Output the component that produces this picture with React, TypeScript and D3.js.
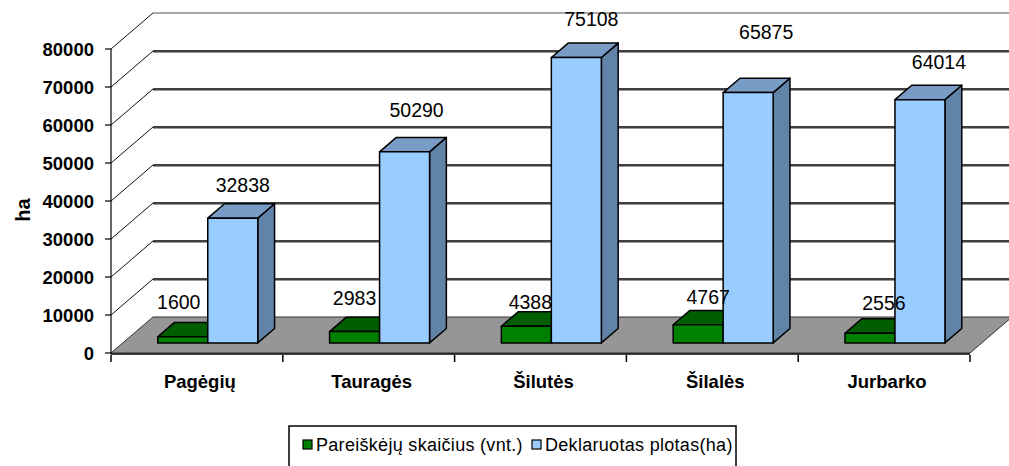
import React, { useEffect, useRef } from 'react';
import * as d3 from 'd3';

const categories = ['Pagėgių', 'Tauragės', 'Šilutės', 'Šilalės', 'Jurbarko'];
const applicants = [1600, 2983, 4388, 4767, 2556];
const declaredArea = [32838, 50290, 75108, 65875, 64014];
const yTicks = [0, 10000, 20000, 30000, 40000, 50000, 60000, 70000, 80000];
const seriesNames = ['Pareiškėjų skaičius (vnt.)', 'Deklaruotas plotas(ha)'];

// label nudges (the labels in the original were dragged around by hand)
const greenNudge: [number, number][] = [[-4, -35], [0, -34], [4, -24], [10, -28], [14, -30]];
const blueNudge: [number, number][] = [[10, -33], [12, -42], [15, -39], [18, -61], [19, -38]];

const App: React.FC = () => {
  const svgRef = useRef<SVGSVGElement>(null);

  useEffect(() => {
    if (!svgRef.current) return;
    const svg = d3.select(svgRef.current);
    svg.selectAll('*').remove();

    const font = '"Liberation Sans", Arial, sans-serif';
    const depthX = 42;
    const depthY = -36;

    const xScale = d3.scaleBand<string>().domain(categories).range([111, 970]);
    const yScale = d3.scaleLinear().domain([0, 80000]).range([353, 49]);
    const sub = d3.scaleBand<string>().domain(['g', 'b']).range([35, 135]);

    const proj = (x: number, v: number, f: number): [number, number] =>
      [x + depthX * f, yScale(v) + depthY * f];
    const pts = (arr: [number, number][]) => arr.map(p => p.join(',')).join(' ');

    // back wall gridlines
    yTicks.slice(1).forEach(t => {
      const [x0, y0] = proj(111, t, 1);
      const top = t === 80000;
      if (!top) {
        svg.append('line')
          .attr('x1', x0).attr('x2', 1010).attr('y1', y0 + 1.5).attr('y2', y0 + 1.5)
          .attr('stroke', '#9a9a9a').attr('stroke-width', 1.2);
      }
      svg.append('line')
        .attr('x1', x0).attr('x2', 1010).attr('y1', y0).attr('y2', y0)
        .attr('stroke', top ? '#8a8a8a' : '#000').attr('stroke-width', top ? 1.4 : 1.6);
    });

    // left wall diagonals
    yTicks.slice(1).forEach(t => {
      const [x0, y0] = proj(111, t, 0);
      const [x1, y1] = proj(111, t, 1);
      svg.append('line')
        .attr('x1', x0).attr('y1', y0).attr('x2', x1).attr('y2', y1)
        .attr('stroke', '#111').attr('stroke-width', 1);
    });

    // floor
    svg.append('polygon')
      .attr('points', pts([proj(111, 0, 0), proj(970, 0, 0), proj(970, 0, 1), proj(111, 0, 1)]))
      .attr('fill', '#969696')
      .attr('stroke', '#333').attr('stroke-width', 1);
    svg.append('line')
      .attr('x1', 111).attr('x2', 970).attr('y1', yScale(0) + 1).attr('y2', yScale(0) + 1)
      .attr('stroke', '#000').attr('stroke-width', 1.5);

    // y axis
    svg.append('line')
      .attr('x1', 111).attr('x2', 111).attr('y1', yScale(0) + 1).attr('y2', yScale(80000))
      .attr('stroke', '#000').attr('stroke-width', 1.2);
    yTicks.forEach(t => {
      svg.append('line')
        .attr('x1', 105).attr('x2', 111).attr('y1', yScale(t)).attr('y2', yScale(t))
        .attr('stroke', '#000').attr('stroke-width', 1.2);
      svg.append('text')
        .attr('x', 94).attr('y', yScale(t))
        .attr('text-anchor', 'end').attr('dominant-baseline', 'central')
        .attr('font-family', font).attr('font-weight', 'bold').attr('font-size', 18.5)
        .attr('fill', '#000')
        .text(String(t));
    });

    svg.append('text')
      .attr('transform', `translate(30,210) rotate(-90)`)
      .attr('text-anchor', 'middle')
      .attr('font-family', font).attr('font-weight', 'bold').attr('font-size', 20)
      .text('ha');

    // x axis ticks + labels
    categories.concat(['__end']).forEach((c, i) => {
      const x = i < categories.length ? (xScale(c) as number) : 970;
      svg.append('line')
        .attr('x1', x).attr('x2', x).attr('y1', yScale(0) + 2).attr('y2', yScale(0) + 9)
        .attr('stroke', '#000').attr('stroke-width', 1.5);
    });
    categories.forEach(c => {
      svg.append('text')
        .attr('x', (xScale(c) as number) + xScale.bandwidth() / 2 + 3)
        .attr('y', 388)
        .attr('text-anchor', 'middle')
        .attr('font-family', font).attr('font-weight', 'bold').attr('font-size', 18.5)
        .text(c);
    });

    const f0 = 0.28;
    const f1 = 0.68;
    const drawBar = (x0: number, x1: number, v: number, front: string, top: string, side: string) => {
      const g = svg.append('g').attr('stroke', '#000').attr('stroke-width', 1.5).attr('stroke-linejoin', 'round');
      g.append('polygon')
        .attr('points', pts([proj(x1, v, f0), proj(x1, v, f1), proj(x1, 0, f1), proj(x1, 0, f0)]))
        .attr('fill', side);
      g.append('polygon')
        .attr('points', pts([proj(x0, v, f0), proj(x1, v, f0), proj(x1, v, f1), proj(x0, v, f1)]))
        .attr('fill', top);
      g.append('polygon')
        .attr('points', pts([proj(x0, v, f0), proj(x1, v, f0), proj(x1, 0, f0), proj(x0, 0, f0)]))
        .attr('fill', front);
    };

    const labels: { x: number; y: number; text: string }[] = [];
    categories.forEach((c, i) => {
      const base = xScale(c) as number;
      const gx0 = base + (sub('g') as number);
      const bx0 = base + (sub('b') as number);
      const w = sub.bandwidth();
      drawBar(gx0, gx0 + w, applicants[i], '#008000', '#005e00', '#004d00');
      drawBar(bx0, bx0 + w, declaredArea[i], '#99ccff', '#789cc6', '#6283a8');

      const [gx, gy] = proj(gx0 + w / 2, applicants[i], f0);
      labels.push({ x: gx + greenNudge[i][0], y: gy + greenNudge[i][1], text: String(applicants[i]) });
      const [bx, by] = proj(bx0 + w / 2, declaredArea[i], f0);
      labels.push({ x: bx + blueNudge[i][0], y: by + blueNudge[i][1], text: String(declaredArea[i]) });
    });

    labels.forEach(l => {
      svg.append('text')
        .attr('x', l.x).attr('y', l.y)
        .attr('text-anchor', 'middle').attr('dominant-baseline', 'central')
        .attr('font-family', font).attr('font-size', 19.5)
        .attr('fill', '#000')
        .text(l.text);
    });

    // legend
    const lg = svg.append('g');
    lg.append('rect')
      .attr('x', 289).attr('y', 426).attr('width', 447).attr('height', 50)
      .attr('fill', '#fff').attr('stroke', '#000').attr('stroke-width', 1.5);
    const legendColors = ['#008000', '#99ccff'];
    const legendX = [303, 532];
    seriesNames.forEach((name, i) => {
      lg.append('rect')
        .attr('x', legendX[i]).attr('y', 440).attr('width', 9).attr('height', 9)
        .attr('fill', legendColors[i]).attr('stroke', '#000').attr('stroke-width', 1.2);
      lg.append('text')
        .attr('x', legendX[i] + 13).attr('y', 445)
        .attr('dominant-baseline', 'central')
        .attr('font-family', font).attr('font-size', 18)
        .attr('letter-spacing', 0.3)
        .text(name);
    });
  }, []);

  return (
    <svg ref={svgRef} width={1009} height={466}
      style={{ position: 'absolute', left: 0, top: 0, background: '#fff' }} />
  );
};

export default App;
